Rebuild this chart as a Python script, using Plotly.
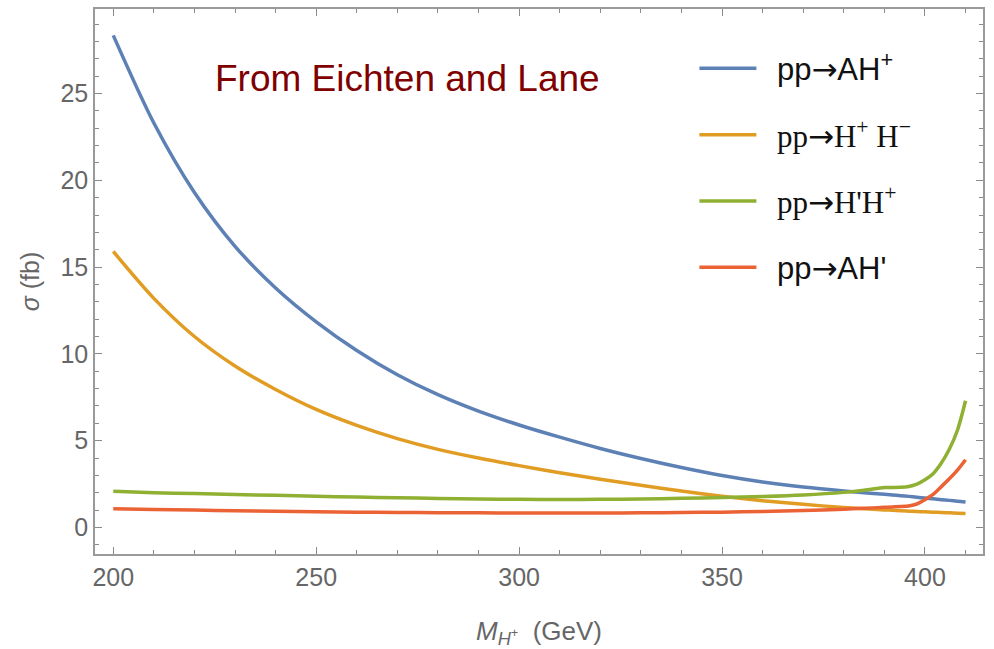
import plotly.graph_objects as go

# ---- data ----
mass = [200, 210, 220, 230, 240, 250, 260, 270, 280, 290, 300, 310, 320, 330,
        340, 350, 360, 370, 380, 385, 390, 392, 394, 396, 398, 400, 402, 404,
        406, 408, 410]

sigma_AHp = [28.35, 23.3, 19.3, 16.2, 13.8, 11.85, 10.2, 8.8, 7.65, 6.7, 5.9,
             5.2, 4.55, 3.97, 3.45, 2.99, 2.62, 2.33, 2.1, 2.0, 1.91, 1.87,
             1.83, 1.79, 1.74, 1.69, 1.65, 1.6, 1.56, 1.51, 1.47]

sigma_HpHm = [15.9, 13.2, 11.0, 9.3, 7.95, 6.8, 5.88, 5.12, 4.5, 4.0, 3.56,
              3.15, 2.78, 2.43, 2.1, 1.8, 1.54, 1.33, 1.15, 1.08, 1.01, 0.99,
              0.96, 0.94, 0.92, 0.9, 0.88, 0.86, 0.84, 0.82, 0.8]

sigma_HpHp = [2.08, 2.0, 1.95, 1.9, 1.85, 1.8, 1.75, 1.71, 1.67, 1.64, 1.62,
              1.61, 1.62, 1.64, 1.68, 1.72, 1.78, 1.87, 2.02, 2.14, 2.3, 2.3,
              2.31, 2.36, 2.5, 2.75, 3.1, 3.7, 4.5, 5.6, 7.3]

sigma_AHpr = [1.07, 1.03, 1.0, 0.96, 0.93, 0.9, 0.88, 0.86, 0.85, 0.84, 0.83,
              0.83, 0.83, 0.84, 0.86, 0.88, 0.92, 0.97, 1.05, 1.1, 1.16, 1.18,
              1.2, 1.24, 1.35, 1.6, 1.9, 2.35, 2.8, 3.3, 3.9]

ARROW = "<span style='font-family:DejaVu Sans'>→</span>"
SERIF = "font-family:Liberation Serif"
PAD = "\u2002"
names = [PAD + "pp" + ARROW + "AH<sup>+</sup>",
         PAD + f"<span style='{SERIF}'>pp" + ARROW + "H<sup>+</sup> H<sup>−</sup></span>",
         PAD + f"<span style='{SERIF}'>pp" + ARROW + "H'H<sup>+</sup></span>",
         PAD + "pp" + ARROW + "AH'"]
colors = ["#5E81B5", "#E19C24", "#8FB032", "#EB6235"]
series = [sigma_AHp, sigma_HpHm, sigma_HpHp, sigma_AHpr]

fig = go.Figure()
for i, (nm, col, ys) in enumerate(zip(names, colors, series)):
    fig.add_trace(go.Scatter(
        x=mass, y=ys, mode="lines", name=nm, legendgroup=f"g{i}",
        line=dict(color=col, width=3.5, shape="spline", smoothing=0.8),
    ))

FONT = "Liberation Sans, Arial, sans-serif"
axis_common = dict(
    showline=True, linecolor="#9a9a9a", linewidth=1.5, mirror="ticks",
    ticks="inside", ticklen=7, tickwidth=1, tickcolor="#8a8a8a",
    showgrid=False, zeroline=False,
    tickfont=dict(family=FONT, size=25, color="#666666"),
)

fig.update_xaxes(
    range=[195.5, 414.3], tickvals=[200, 250, 300, 350, 400],
    minor=dict(dtick=10, tick0=200, ticks="inside", ticklen=4, tickcolor="#8a8a8a", showgrid=False),
    title=dict(text="<i>M</i><sub><i>H</i><sup>+</sup></sub>  (GeV)",
               font=dict(family=FONT, size=26, color="#666666"),
               standoff=33),
    **axis_common,
)
fig.update_yaxes(
    range=[-1.53, 29.87], tickvals=[0, 5, 10, 15, 20, 25],
    minor=dict(dtick=1, tick0=0, ticks="inside", ticklen=4, tickcolor="#8a8a8a", showgrid=False),
    title=dict(text="<i>σ</i> (fb)",
               font=dict(family=FONT, size=25, color="#666666"),
               standoff=14),
    **axis_common,
)

fig.add_annotation(
    text="From Eichten and Lane", xref="paper", yref="paper",
    x=0.133, y=0.872, xanchor="left", yanchor="middle", showarrow=False,
    font=dict(family=FONT, size=37, color="#800000"),
)

fig.update_layout(
    width=994, height=649,
    margin=dict(l=95, r=11, t=7, b=94),
    plot_bgcolor="white", paper_bgcolor="white",
    legend=dict(
        x=0.675, y=0.94, xanchor="left", yanchor="top",
        font=dict(family=FONT, size=31, color="#111111"),
        bgcolor="rgba(0,0,0,0)", tracegroupgap=23, itemwidth=57,
    ),
    showlegend=True,
)

fig.write_html("out.html")
